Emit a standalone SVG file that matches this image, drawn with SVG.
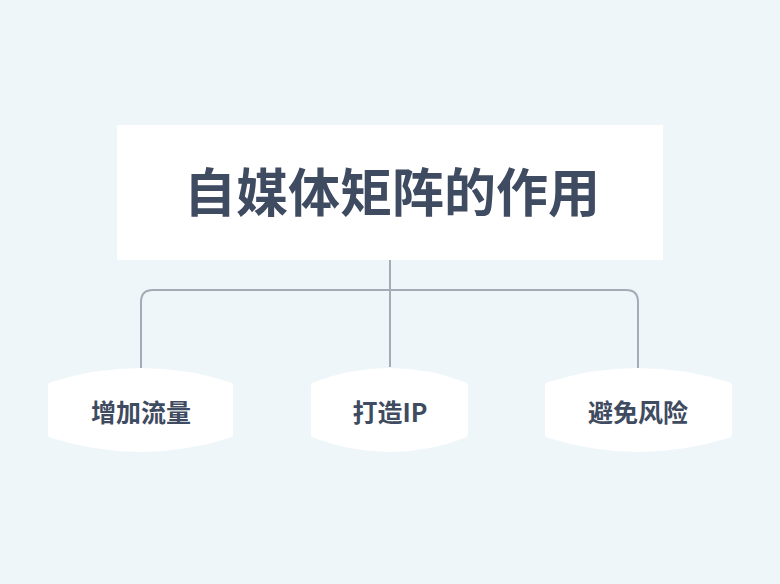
<svg xmlns="http://www.w3.org/2000/svg" width="780" height="584" viewBox="0 0 780 584">
<style>
.bg{fill:#eff6fa}
.box{fill:#ffffff}
.node{fill:#ffffff;stroke:#ffffff;stroke-width:8;stroke-linejoin:round}
.conn{fill:none;stroke:#a3acb6;stroke-width:2}
.t{font-family:"Noto Sans CJK SC","Noto Sans",sans-serif;font-weight:bold;fill:#3e4b60;text-anchor:middle;dominant-baseline:central}
.title{font-size:52px}
.lbl{font-size:25px}
</style>
<rect class="bg" x="0" y="0" width="780" height="584"/>
<g id="connectors">
<path class="conn" d="M390,260 V367"/>
<path class="conn" d="M141,368 V302 Q141,290 153,290 H626 Q638,290 638,302 V368"/>
</g>
<g id="root">
<rect class="box" x="117" y="125" width="546" height="135"/>
<text class="t title" x="392" y="189">自媒体矩阵的作用</text>
</g>
<g id="n1">
<path class="node" d="M52,386 Q141,358 229,386 L229,434 Q141,462 52,434 Z"/>
<text class="t lbl" x="141" y="411">增加流量</text>
</g>
<g id="n2">
<path class="node" d="M315,386 Q390,358 464,386 L464,434 Q390,462 315,434 Z"/>
<text class="t lbl" x="390" y="411">打造IP</text>
</g>
<g id="n3">
<path class="node" d="M549,386 Q638,358 728,386 L728,434 Q638,462 549,434 Z"/>
<text class="t lbl" x="638" y="411">避免风险</text>
</g>
</svg>
